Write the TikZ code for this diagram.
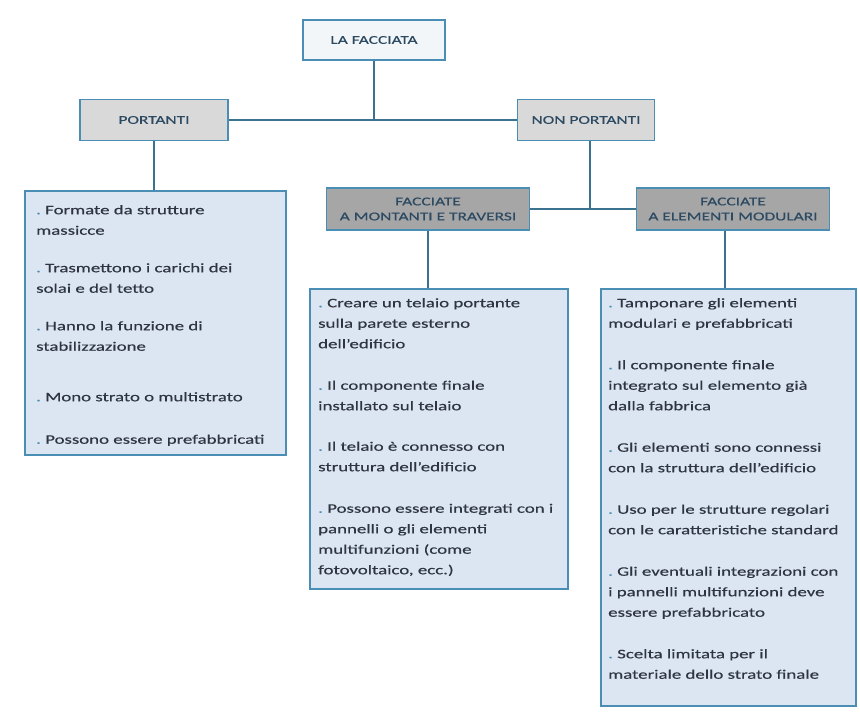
\documentclass[tikz,border=0pt]{standalone}
\usepackage{fontspec}
\setmainfont{Carlito}
\newfontfamily\widefont{Carlito}[FakeStretch=1.45,FakeBold=0.4]
\usetikzlibrary{positioning}
\definecolor{bordc}{HTML}{4A8DB5}
\definecolor{linec}{HTML}{3A7290}
\definecolor{lightg}{HTML}{D9D9D9}
\definecolor{darkg}{HTML}{A6A6A6}
\definecolor{paleb}{HTML}{DCE6F2}
\definecolor{topf}{HTML}{F3F6F8}
\definecolor{txt}{HTML}{2E3540}
\definecolor{htxt}{HTML}{2C4A62}
\definecolor{bul}{HTML}{4A8DB5}
\newcommand{\bdot}{{\color{bul}.}\ }
\begin{document}
\begin{tikzpicture}[x=1pt,y=-1pt,
  hdr/.style={draw=bordc,line width=1.6pt,text=htxt,align=center,inner sep=0pt,
    font=\widefont\fontsize{12}{15}\selectfont},
  txtbox/.style={draw=bordc,line width=1.6pt,fill=paleb,inner sep=0pt},
  body/.style={anchor=north west,align=left,inner sep=0pt,text=txt,
    font=\widefont\fontsize{13}{20.5}\selectfont},
  conn/.style={draw=linec,line width=1.8pt}]
\useasboundingbox (0,0) rectangle (860,713);
\fill[white] (0,0) rectangle (860,713);
% header nodes
\node[hdr,fill=topf,minimum width=142pt,minimum height=40pt] (top) at (374,40) {LA FACCIATA};
\node[hdr,fill=lightg,minimum width=148pt,minimum height=41pt] (port) at (154,120) {PORTANTI};
\node[hdr,fill=lightg,minimum width=137pt,minimum height=41pt] (nport) at (586,120) {NON PORTANTI};
\node[hdr,fill=darkg,minimum width=203pt,minimum height=42pt] (mont) at (428,209) {FACCIATE\\A MONTANTI E TRAVERSI};
\node[hdr,fill=darkg,minimum width=193pt,minimum height=42pt] (mod) at (733,209) {FACCIATE\\A ELEMENTI MODULARI};
% text boxes
\node[txtbox,minimum width=261pt,minimum height=264pt,anchor=north west] (lbox) at (24,190) {};
\node[txtbox,minimum width=258pt,minimum height=300pt,anchor=north west] (mbox) at (309,288) {};
\node[txtbox,minimum width=255pt,minimum height=417pt,anchor=north west] (rbox) at (600,288) {};
\node[body] (ltxt) at (36,205) {\bdot Formate da strutture\\massicce\\[17pt]
\bdot Trasmettono i carichi dei\\solai e del tetto\\[17pt]
\bdot Hanno la funzione di\\stabilizzazione\\[30pt]
\bdot Mono strato o multistrato\\[22pt]
\bdot Possono essere prefabbricati};
\node[body] (mtxt) at (318,298) {\bdot Creare un telaio portante\\sulla parete esterno\\dell’edificio\\[21pt]
\bdot Il componente finale\\installato sul telaio\\[20pt]
\bdot Il telaio è connesso con\\struttura dell’edificio\\[21pt]
\bdot Possono essere integrati con i\\pannelli o gli elementi\\multifunzioni (come\\fotovoltaico, ecc.)};
\node[body] (rtxt) at (608,298) {\bdot Tamponare gli elementi\\modulari e prefabbricati\\[21pt]
\bdot Il componente finale\\integrato sul elemento già\\dalla fabbrica\\[21pt]
\bdot Gli elementi sono connessi\\con la struttura dell’edificio\\[21pt]
\bdot Uso per le strutture regolari\\con le caratteristiche standard\\[21pt]
\bdot Gli eventuali integrazioni con\\i pannelli multifunzioni deve\\essere prefabbricato\\[21pt]
\bdot Scelta limitata per il\\materiale dello strato finale};
% connectors
\coordinate (j1) at (top.south |- port.east);
\draw[conn] (top.south) -- (j1);
\draw[conn] (port.east) -- (nport.west);
\draw[conn] (port.south) -- (lbox.north -| port.south);
\coordinate (j2) at ([xshift=4pt]nport.south);
\coordinate (j3) at (j2 |- mont.east);
\draw[conn] (j2) -- (j3);
\draw[conn] (mont.east) -- (mod.west);
\draw[conn] (mont.south) -- (mbox.north -| mont.south);
\coordinate (j4) at ([xshift=-8pt]mod.south);
\draw[conn] (j4) -- (j4 |- rbox.north);
\end{tikzpicture}
\end{document}
